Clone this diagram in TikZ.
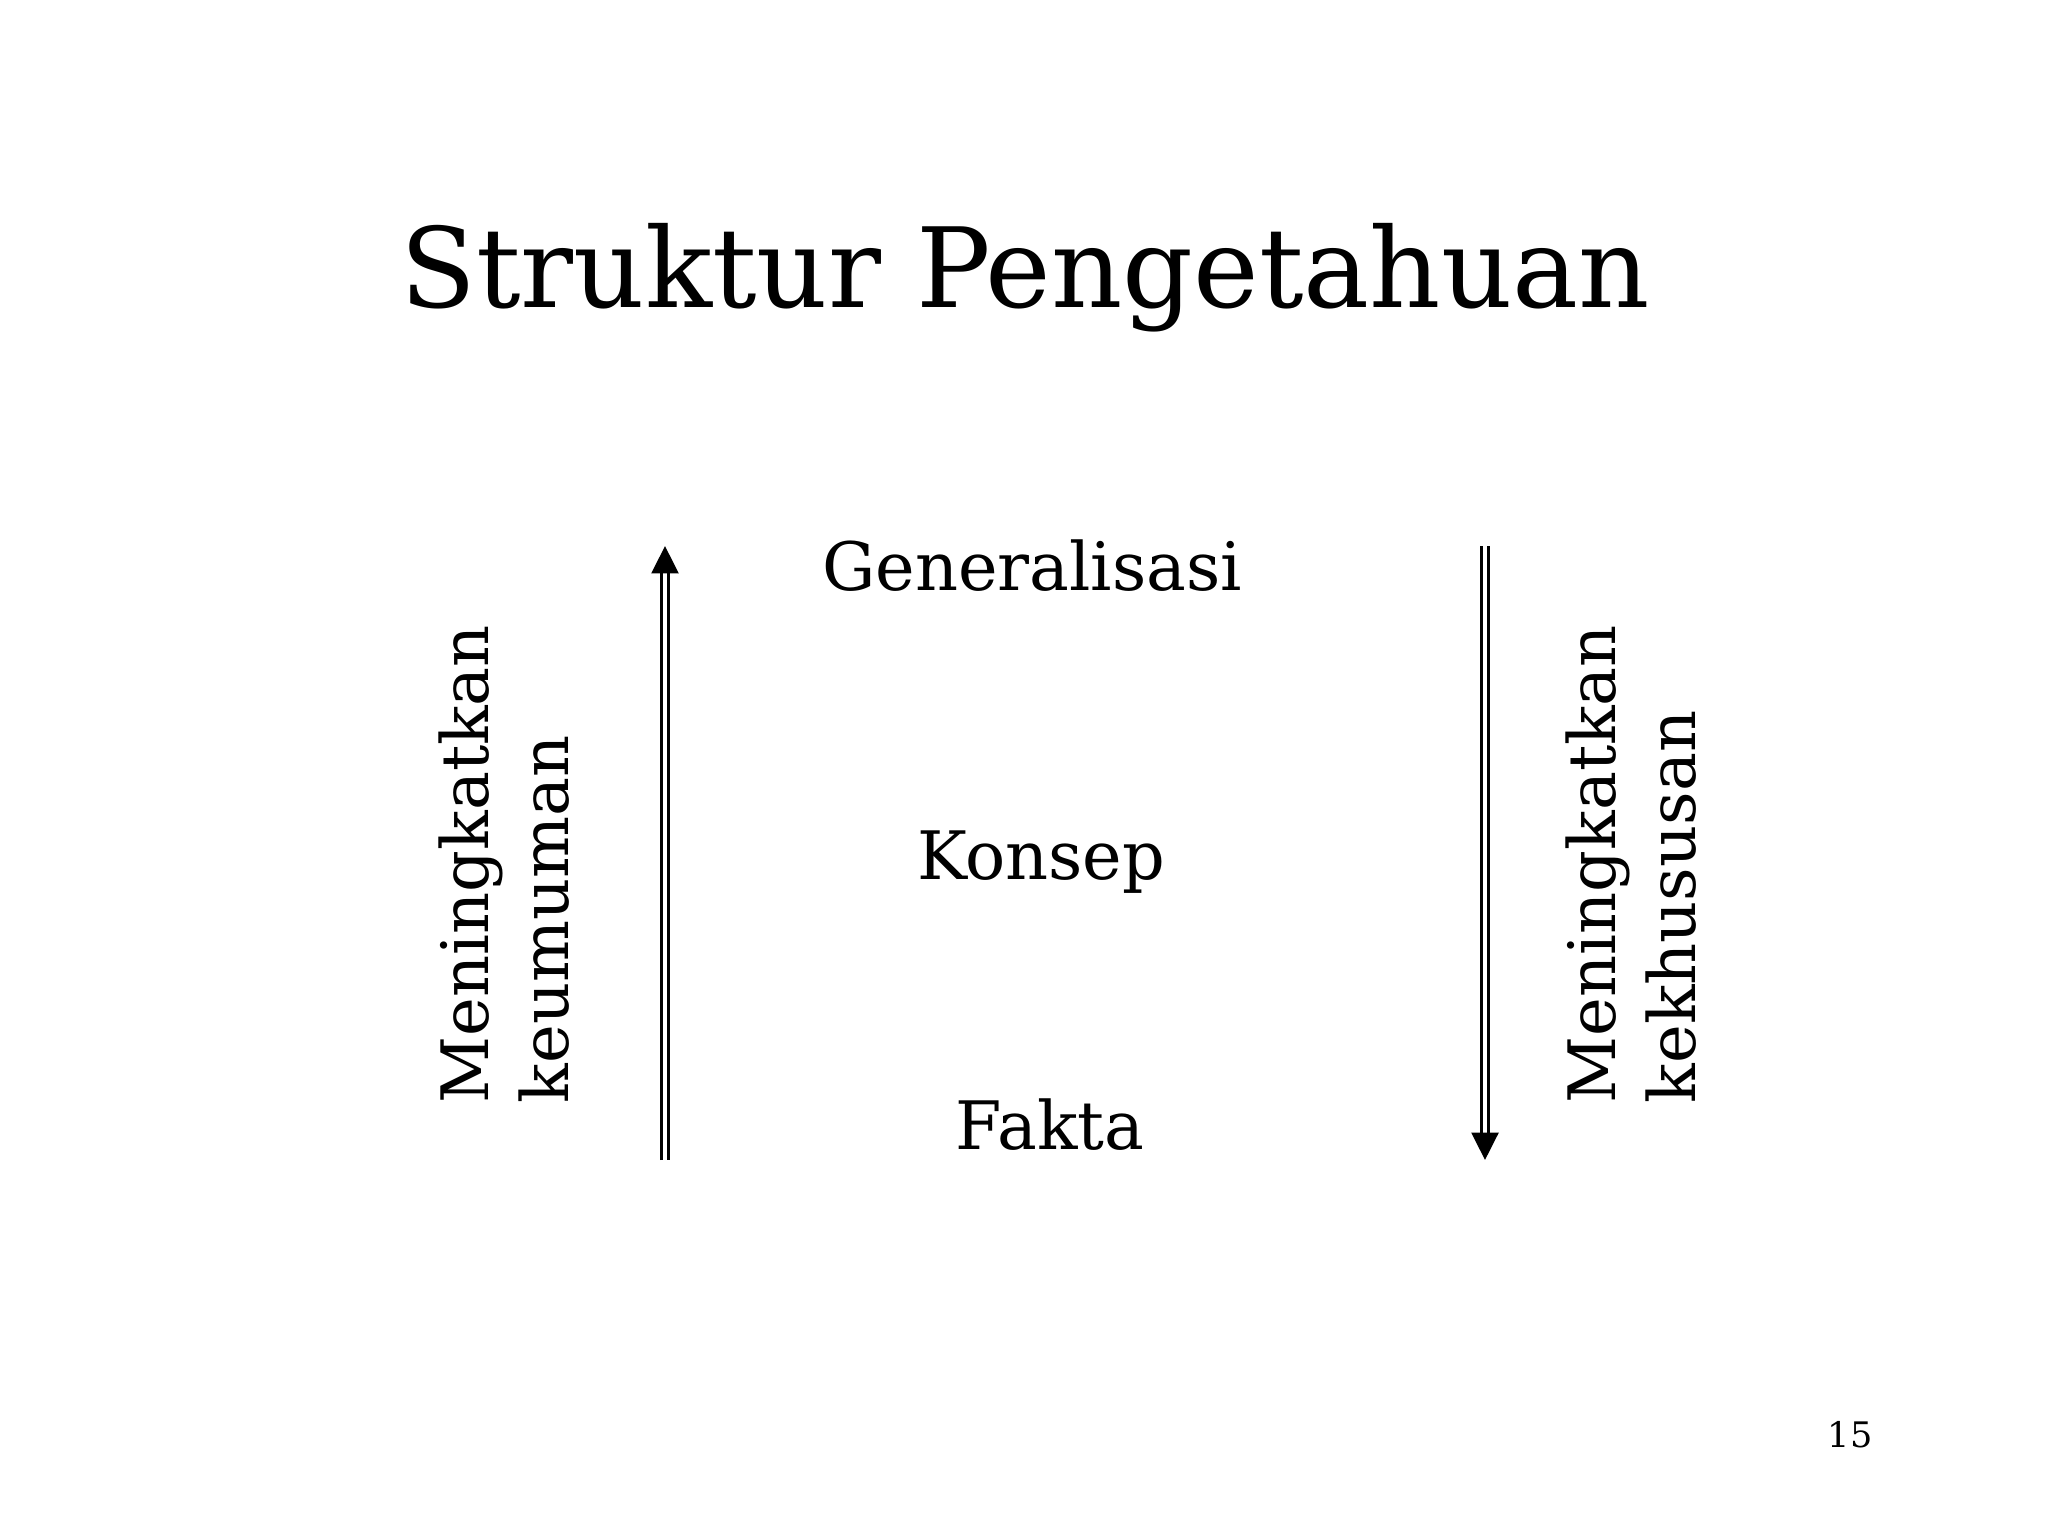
\documentclass[tikz,border=0pt]{standalone}
\usepackage{fontspec}
\setmainfont{DejaVu Serif}
\usetikzlibrary{arrows.meta}

\tikzset{
  label text/.style={font=\fontsize{19}{22}\selectfont, inner sep=0pt, anchor=base},
  side text/.style={font=\fontsize{18.6}{22}\selectfont, inner sep=0pt, rotate=90, anchor=base west},
  dbl arrow/.style={draw=black, line width=1pt, double=white, double distance=0.9pt,
    -{Triangle[length=7.8pt, width=7.6pt]}, shorten >=0pt}
}

\begin{document}
\begin{tikzpicture}[x=0.01cm, y=-0.01cm]
\useasboundingbox[fill=white] (0,0) rectangle (2048,1536);

% title
\node[font=\fontsize{31.5}{36}\selectfont, inner sep=0pt, anchor=base] (title) at (1025,307) {Struktur Pengetahuan};

% levels
\node[label text] (gen) at (1032,590) {Generalisasi};
\node[label text] (kon) at (1041,879) {Konsep};
\node[label text] (fak) at (1050,1149) {Fakta};

% side texts
\node[side text] (umumA) at (488,1104) {Meningkatkan};
\node[side text] (umumB) at (568,1104) {keumuman};
\node[side text] (khusA) at (1615,1104) {Meningkatkan};
\node[side text] (khusB) at (1695,1104) {kekhususan};

% arrows
\coordinate (upbot) at (665,1160);
\coordinate (uptop) at (665,546);
\coordinate (dntop) at (1485,546);
\coordinate (dnbot) at (1485,1160);
\draw[dbl arrow] (upbot) -- (uptop);
\draw[dbl arrow] (dntop) -- (dnbot);

% page number
\node[font=\fontsize{10}{12}\selectfont, inner sep=0pt, anchor=base] (page) at (1850,1447) {15};
\end{tikzpicture}
\end{document}
